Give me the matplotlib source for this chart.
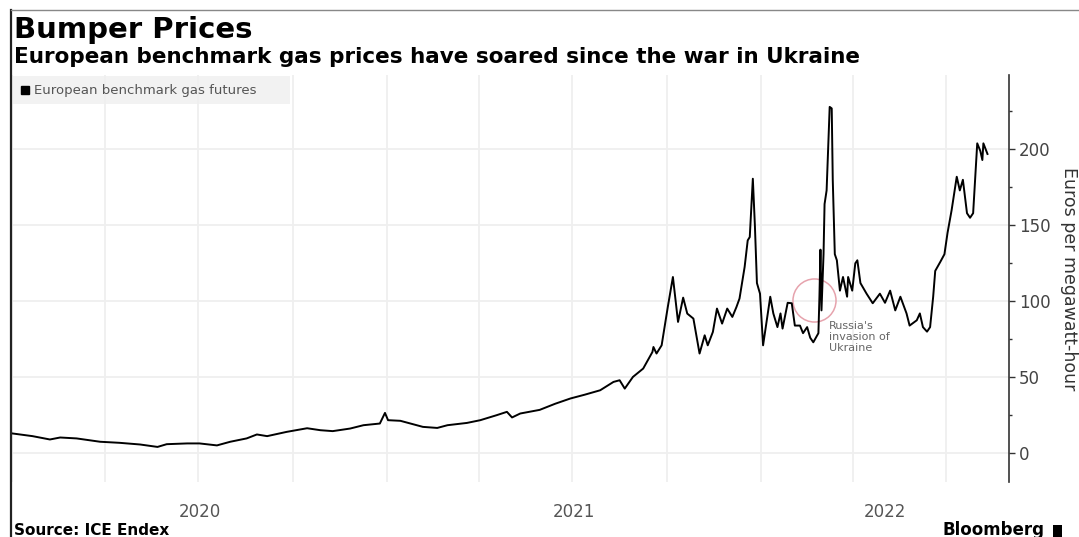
import matplotlib
matplotlib.use("Agg")
import numpy as np
import pandas as pd
import matplotlib.pyplot as plt
import matplotlib.dates as mdates
from matplotlib.lines import Line2D

# Dutch TTF front-month, EUR/MWh
dates = [
    "2020-01-01", "2020-01-21", "2020-02-07", "2020-02-17", "2020-03-04", "2020-03-27",
    "2020-04-15", "2020-05-05", "2020-05-22", "2020-05-31", "2020-06-20", "2020-07-02",
    "2020-07-19", "2020-08-01", "2020-08-17", "2020-08-27", "2020-09-06", "2020-09-25",
    "2020-10-15", "2020-10-28", "2020-11-09", "2020-11-26", "2020-12-09", "2020-12-25",
    "2020-12-30", "2021-01-02", "2021-01-14", "2021-01-26", "2021-02-05", "2021-02-19",
    "2021-03-01", "2021-03-20", "2021-04-02", "2021-04-18", "2021-04-28", "2021-05-03",
    "2021-05-11", "2021-05-30", "2021-06-14", "2021-06-29", "2021-07-13", "2021-07-28",
    "2021-08-10", "2021-08-16", "2021-08-21", "2021-08-29", "2021-09-08", "2021-09-17",
    "2021-09-18", "2021-09-21", "2021-09-26", "2021-10-02", "2021-10-07", "2021-10-12",
    "2021-10-17", "2021-10-21", "2021-10-27", "2021-11-02", "2021-11-07", "2021-11-10",
    "2021-11-15", "2021-11-19", "2021-11-24", "2021-11-29", "2021-12-04", "2021-12-08",
    "2021-12-11", "2021-12-16", "2021-12-19", "2021-12-21", "2021-12-24", "2021-12-26",
    "2021-12-28", "2021-12-31", "2022-01-03", "2022-01-10", "2022-01-13", "2022-01-17",
    "2022-01-20", "2022-01-22", "2022-01-27", "2022-01-31", "2022-02-03", "2022-02-08",
    "2022-02-11", "2022-02-15", "2022-02-18", "2022-02-21", "2022-02-26", "2022-02-27",
    "2022-02-28", "2022-03-01", "2022-03-03", "2022-03-04", "2022-03-06", "2022-03-09",
    "2022-03-11", "2022-03-12", "2022-03-14", "2022-03-16", "2022-03-19", "2022-03-22",
    "2022-03-26", "2022-03-27", "2022-03-31", "2022-04-03", "2022-04-05", "2022-04-08",
    "2022-04-14", "2022-04-20", "2022-04-27", "2022-05-02", "2022-05-07", "2022-05-12",
    "2022-05-17", "2022-05-23", "2022-05-26", "2022-06-02", "2022-06-05", "2022-06-08",
    "2022-06-12", "2022-06-15", "2022-06-18", "2022-06-20", "2022-06-25", "2022-06-29",
    "2022-07-02", "2022-07-06", "2022-07-11", "2022-07-14", "2022-07-17", "2022-07-21",
    "2022-07-24", "2022-07-27", "2022-07-31", "2022-08-03", "2022-08-05", "2022-08-06",
    "2022-08-10",
]
prices = [
    13.0, 11.2, 9.0, 10.3, 9.7, 7.5,
    6.8, 5.7, 4.1, 5.9, 6.4, 6.4,
    5.1, 7.5, 9.7, 12.3, 11.2, 14.0,
    16.4, 15.1, 14.5, 16.2, 18.4, 19.5,
    26.5, 21.7, 21.3, 19.1, 17.3, 16.6,
    18.4, 19.9, 21.7, 25.0, 27.2, 23.5,
    26.1, 28.5, 32.5, 36.0, 38.5, 41.4,
    46.9, 48.0, 42.5, 50.2, 55.7, 66.6,
    69.9, 65.6, 71.0, 96.2, 116.0, 86.4,
    102.4, 91.9, 88.6, 65.6, 77.6, 71.0,
    79.8, 95.2, 85.3, 95.2, 89.7, 96.2,
    101.8, 122.6, 140.1, 142.3, 180.7, 150.0,
    112.0, 105.0, 71.0, 103.0, 92.0, 83.0,
    92.0, 82.0, 99.0, 98.7, 84.0, 84.0,
    79.0, 83.0, 76.0, 73.0, 79.0, 103.0,
    134.0, 94.0, 131.0, 164.0, 173.0, 228.0,
    227.0, 180.0, 131.0, 127.0, 107.0, 116.0,
    103.0, 116.0, 107.0, 125.0, 127.0, 112.0,
    105.0, 98.7, 105.0, 99.0, 107.0, 94.0,
    103.0, 92.0, 84.0, 87.5, 92.0, 83.0,
    80.0, 83.0, 103.0, 120.0, 126.0, 131.0,
    145.0, 160.0, 182.0, 173.0, 180.0, 158.0,
    155.0, 158.0, 204.0, 199.0, 193.0, 204.0,
    197.0,
]

series = pd.Series(prices, index=pd.to_datetime(dates))

x_start = pd.Timestamp("2020-01-01")
x_end = pd.Timestamp("2022-08-31")
years = [2020, 2021, 2022]
invasion = pd.Timestamp("2022-02-22")
invasion_level = 101

fig = plt.figure(figsize=(10.79, 5.37), dpi=100)
ax = fig.add_axes([12 / 1079, 55 / 537, 997 / 1079, 407 / 537])

ax.plot(series.index, series.values, color="black", lw=1.4, zorder=3)

ax.set_xlim(x_start, x_end)
ax.set_ylim(-19, 249)

# quarterly gridlines, year labels centred on the visible part of each year
ax.xaxis.set_major_locator(mdates.MonthLocator(bymonth=[1, 4, 7, 10]))
ax.xaxis.set_major_formatter(plt.NullFormatter())
label_pos = []
for y in years:
    a = max(pd.Timestamp(f"{y}-01-01"), x_start)
    b = min(pd.Timestamp(f"{y + 1}-01-01"), x_end)
    label_pos.append(mdates.date2num(a + (b - a) / 2))
ax.set_xticks(label_pos, minor=True)
ax.set_xticklabels([str(y) for y in years], minor=True)
ax.tick_params(axis="x", which="both", length=0, pad=15, labelsize=12, labelcolor="#555555")

ax.yaxis.tick_right()
ax.set_yticks(np.arange(0, 201, 50))
ax.set_yticks(np.arange(-0, 250, 25), minor=True)
ax.tick_params(axis="y", which="major", length=4, width=1, color="#333333",
               labelsize=12, labelcolor="#444444", pad=3)
ax.tick_params(axis="y", which="minor", length=2.5, width=1, color="#333333")

for s in ["left", "top", "bottom"]:
    ax.spines[s].set_visible(False)
ax.spines["right"].set_color("#333333")
ax.spines["right"].set_linewidth(1.2)

ax.grid(True, which="major", color="#efefef", lw=1.3, zorder=0)

ax.text(1.06, 0.5, "Euros per megawatt-hour", transform=ax.transAxes, rotation=270,
        ha="center", va="center", fontsize=12.5, color="#333333", clip_on=False)

# invasion marker
ax.plot([invasion], [invasion_level], marker="o", ms=31, mfc="none",
        mec="#e6a3ad", mew=1.1, zorder=2)
ax.text(pd.Timestamp("2022-03-08"), 87, "Russia's\ninvasion of\nUkraine",
        fontsize=8, color="#666666", va="top", ha="left", linespacing=1.15)

# legend strip
ax.add_patch(plt.Rectangle((0, 0.928), 278 / 997, 0.07, transform=ax.transAxes,
                           facecolor="#f2f2f2", edgecolor="none", zorder=1))
ax.plot([0.013], [0.962], marker="s", ms=6, color="black", transform=ax.transAxes,
        clip_on=False, zorder=4)
ax.text(0.022, 0.962, "European benchmark gas futures", transform=ax.transAxes,
        fontsize=9.5, color="#555555", va="center", ha="left", zorder=4)

# titles and footer
fig.text(14 / 1079, 1 - 38 / 537, "Bumper Prices", fontsize=21, fontweight="bold",
         va="baseline", ha="left")
fig.text(14 / 1079, 1 - 63 / 537,
         "European benchmark gas prices have soared since the war in Ukraine",
         fontsize=15.5, fontweight="bold", va="baseline", ha="left")
fig.text(14 / 1079, 2 / 537, "Source: ICE Endex", fontsize=11, fontweight="bold",
         va="baseline", ha="left")
fig.text(942 / 1079, 2 / 537, "Bloomberg", fontsize=12, fontweight="bold",
         va="baseline", ha="left")
fig.patches.append(plt.Rectangle((1053 / 1079, 0), 9 / 1079, 12 / 537,
                                 transform=fig.transFigure, facecolor="black",
                                 edgecolor="none"))

# frame
fig.add_artist(Line2D([11 / 1079, 11 / 1079], [0, 1 - 10 / 537],
                      transform=fig.transFigure, color="#222222", lw=1.6))
fig.add_artist(Line2D([11 / 1079, 1], [1 - 10 / 537, 1 - 10 / 537],
                      transform=fig.transFigure, color="#888888", lw=1.0))

fig.savefig("out.png", dpi=100)
